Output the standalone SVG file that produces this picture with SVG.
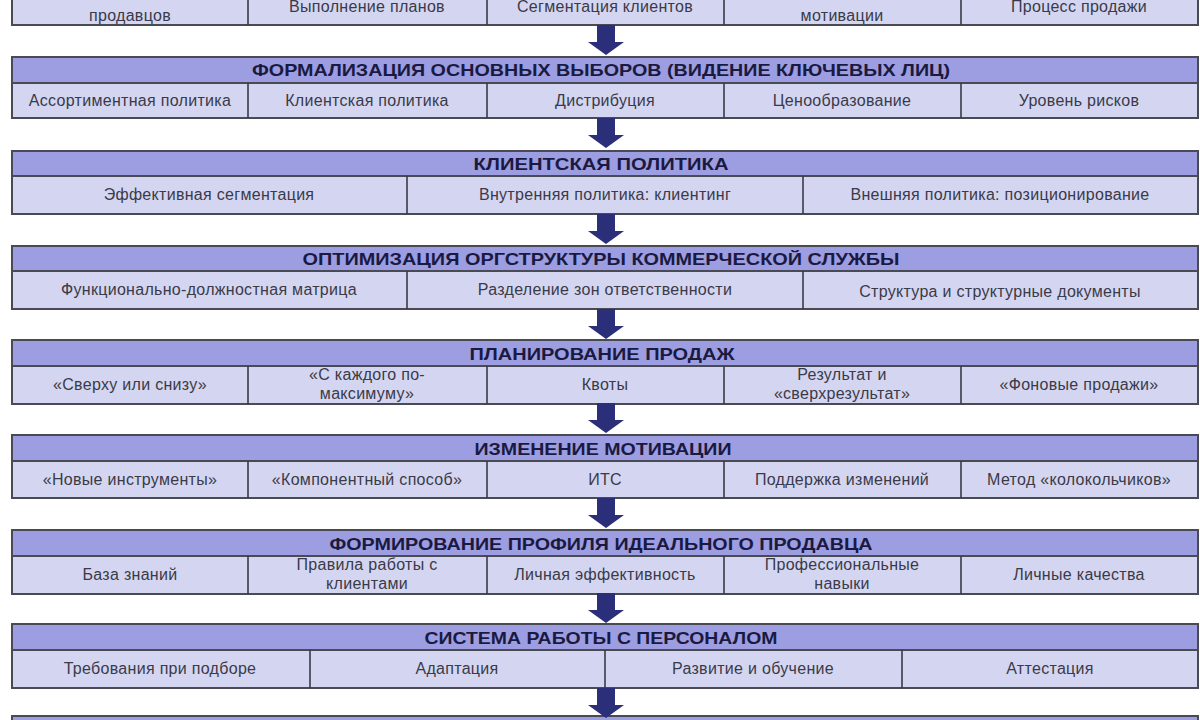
<svg xmlns="http://www.w3.org/2000/svg" xmlns:xlink="http://www.w3.org/1999/xlink" width="1200" height="720" viewBox="0 0 1200 720">
<style>
.hd{fill:#9d9de2;stroke:#4a4a55;stroke-width:2}
.rw{fill:#d4d6f1;stroke:#4a4a55;stroke-width:2}
.dv{stroke:#3a3a45;stroke-width:1.6}
.ht{font-family:"Liberation Sans",Arial,sans-serif;font-weight:bold;font-size:17px;fill:#1a1a40;text-anchor:middle}
.ct{font-family:"Liberation Sans",Arial,sans-serif;font-size:16px;letter-spacing:0.3px;fill:#3a3a48;text-anchor:middle}
.ar{fill:#2b2e78}
</style>
<defs>
<path id="arr" d="M-9,0 H9 V17 H18 L0,30 L-18,17 H-9 Z"/>
</defs>
<rect width="1200" height="720" fill="#ffffff"/>

<g id="block0">
<rect class="rw" x="12" y="-14" width="1186" height="39"/>
<line class="dv" x1="248" y1="-14" x2="248" y2="25"/>
<line class="dv" x1="487" y1="-14" x2="487" y2="25"/>
<line class="dv" x1="724" y1="-14" x2="724" y2="25"/>
<line class="dv" x1="961" y1="-14" x2="961" y2="25"/>
<text class="ct" x="130" y="21">продавцов</text>
<text class="ct" x="367" y="12">Выполнение планов</text>
<text class="ct" x="605" y="12">Сегментация клиентов</text>
<text class="ct" x="842" y="21">мотивации</text>
<text class="ct" x="1079" y="12">Процесс продажи</text>
</g>

<g id="block1">
<rect class="hd" x="12" y="57" width="1186" height="26"/>
<rect class="rw" x="12" y="83" width="1186" height="35"/>
<line class="dv" x1="248" y1="83" x2="248" y2="118"/>
<line class="dv" x1="487" y1="83" x2="487" y2="118"/>
<line class="dv" x1="724" y1="83" x2="724" y2="118"/>
<line class="dv" x1="961" y1="83" x2="961" y2="118"/>
<text class="ht" x="601" y="76" textLength="698" lengthAdjust="spacingAndGlyphs">ФОРМАЛИЗАЦИЯ ОСНОВНЫХ ВЫБОРОВ (ВИДЕНИЕ КЛЮЧЕВЫХ ЛИЦ)</text>
<text class="ct" x="130" y="106">Ассортиментная политика</text>
<text class="ct" x="367" y="106">Клиентская политика</text>
<text class="ct" x="605" y="106">Дистрибуция</text>
<text class="ct" x="842" y="106">Ценообразование</text>
<text class="ct" x="1079" y="106">Уровень рисков</text>
</g>

<g id="block2">
<rect class="hd" x="12" y="151" width="1186" height="25"/>
<rect class="rw" x="12" y="176" width="1186" height="38"/>
<line class="dv" x1="407" y1="176" x2="407" y2="214"/>
<line class="dv" x1="803" y1="176" x2="803" y2="214"/>
<text class="ht" x="601" y="170" textLength="255" lengthAdjust="spacingAndGlyphs">КЛИЕНТСКАЯ ПОЛИТИКА</text>
<text class="ct" x="209" y="200">Эффективная сегментация</text>
<text class="ct" x="605" y="200">Внутренняя политика: клиентинг</text>
<text class="ct" x="1000" y="200">Внешняя политика: позиционирование</text>
</g>

<g id="block3">
<rect class="hd" x="12" y="246" width="1186" height="25"/>
<rect class="rw" x="12" y="271" width="1186" height="38"/>
<line class="dv" x1="407" y1="271" x2="407" y2="309"/>
<line class="dv" x1="803" y1="271" x2="803" y2="309"/>
<text class="ht" x="601" y="265" textLength="597" lengthAdjust="spacingAndGlyphs">ОПТИМИЗАЦИЯ ОРГСТРУКТУРЫ КОММЕРЧЕСКОЙ СЛУЖБЫ</text>
<text class="ct" x="209" y="295">Функционально-должностная матрица</text>
<text class="ct" x="605" y="295">Разделение зон ответственности</text>
<text class="ct" x="1000" y="297">Структура и структурные документы</text>
</g>

<g id="block4">
<rect class="hd" x="12" y="340" width="1186" height="26"/>
<rect class="rw" x="12" y="366" width="1186" height="38"/>
<line class="dv" x1="248" y1="366" x2="248" y2="404"/>
<line class="dv" x1="487" y1="366" x2="487" y2="404"/>
<line class="dv" x1="724" y1="366" x2="724" y2="404"/>
<line class="dv" x1="961" y1="366" x2="961" y2="404"/>
<text class="ht" x="602" y="360" textLength="265" lengthAdjust="spacingAndGlyphs">ПЛАНИРОВАНИЕ ПРОДАЖ</text>
<text class="ct" x="130" y="390">«Сверху или снизу»</text>
<text class="ct" x="367" y="380">«С каждого по-</text>
<text class="ct" x="367" y="399">максимуму»</text>
<text class="ct" x="605" y="390">Квоты</text>
<text class="ct" x="842" y="380">Результат и</text>
<text class="ct" x="842" y="399">«сверхрезультат»</text>
<text class="ct" x="1079" y="390">«Фоновые продажи»</text>
</g>

<g id="block5">
<rect class="hd" x="12" y="435" width="1186" height="26"/>
<rect class="rw" x="12" y="461" width="1186" height="37"/>
<line class="dv" x1="248" y1="461" x2="248" y2="498"/>
<line class="dv" x1="487" y1="461" x2="487" y2="498"/>
<line class="dv" x1="724" y1="461" x2="724" y2="498"/>
<line class="dv" x1="961" y1="461" x2="961" y2="498"/>
<text class="ht" x="603" y="455" textLength="257" lengthAdjust="spacingAndGlyphs">ИЗМЕНЕНИЕ МОТИВАЦИИ</text>
<text class="ct" x="130" y="485">«Новые инструменты»</text>
<text class="ct" x="367" y="485">«Компонентный способ»</text>
<text class="ct" x="605" y="485">ИТС</text>
<text class="ct" x="842" y="485">Поддержка изменений</text>
<text class="ct" x="1079" y="485">Метод «колокольчиков»</text>
</g>

<g id="block6">
<rect class="hd" x="12" y="530" width="1186" height="26"/>
<rect class="rw" x="12" y="556" width="1186" height="38"/>
<line class="dv" x1="248" y1="556" x2="248" y2="594"/>
<line class="dv" x1="487" y1="556" x2="487" y2="594"/>
<line class="dv" x1="724" y1="556" x2="724" y2="594"/>
<line class="dv" x1="961" y1="556" x2="961" y2="594"/>
<text class="ht" x="601" y="550" textLength="543" lengthAdjust="spacingAndGlyphs">ФОРМИРОВАНИЕ ПРОФИЛЯ ИДЕАЛЬНОГО ПРОДАВЦА</text>
<text class="ct" x="130" y="580">База знаний</text>
<text class="ct" x="367" y="570">Правила работы с</text>
<text class="ct" x="367" y="589">клиентами</text>
<text class="ct" x="605" y="580">Личная эффективность</text>
<text class="ct" x="842" y="570">Профессиональные</text>
<text class="ct" x="842" y="589">навыки</text>
<text class="ct" x="1079" y="580">Личные качества</text>
</g>

<g id="block7">
<rect class="hd" x="12" y="624" width="1186" height="26"/>
<rect class="rw" x="12" y="650" width="1186" height="38"/>
<line class="dv" x1="310" y1="650" x2="310" y2="688"/>
<line class="dv" x1="605" y1="650" x2="605" y2="688"/>
<line class="dv" x1="902" y1="650" x2="902" y2="688"/>
<text class="ht" x="601" y="644" textLength="353" lengthAdjust="spacingAndGlyphs">СИСТЕМА РАБОТЫ С ПЕРСОНАЛОМ</text>
<text class="ct" x="160" y="674">Требования при подборе</text>
<text class="ct" x="457" y="674">Адаптация</text>
<text class="ct" x="753" y="674">Развитие и обучение</text>
<text class="ct" x="1050" y="674">Аттестация</text>
</g>

<g id="block8">
<rect class="hd" x="12" y="716" width="1186" height="26"/>
</g>

<g id="connectors" class="ar">
<use xlink:href="#arr" x="606" y="25"/>
<use xlink:href="#arr" x="606" y="118"/>
<use xlink:href="#arr" x="606" y="214"/>
<use xlink:href="#arr" x="606" y="309"/>
<use xlink:href="#arr" x="606" y="403"/>
<use xlink:href="#arr" x="606" y="498"/>
<use xlink:href="#arr" x="606" y="593"/>
<use xlink:href="#arr" x="606" y="688"/>
</g>
</svg>
